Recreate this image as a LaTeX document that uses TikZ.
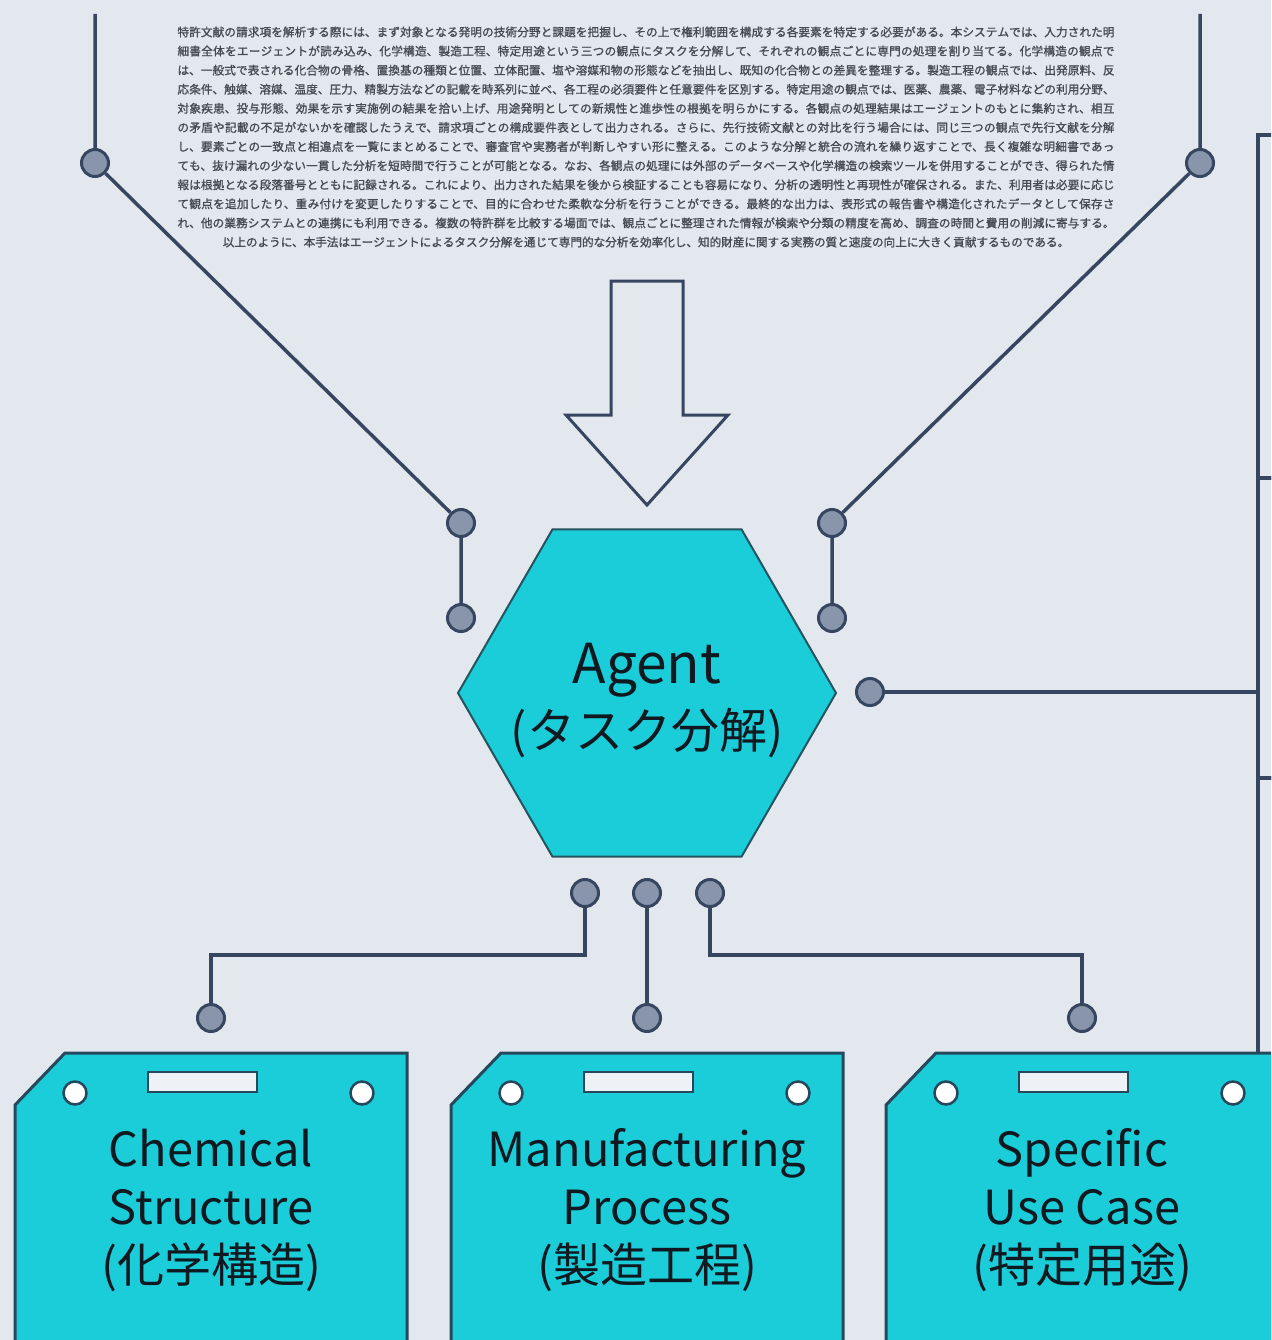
\documentclass[tikz,border=0pt]{standalone}
\usepackage{fontspec}
\setmainfont{Noto Sans CJK JP}
\newfontfamily\notefont{Noto Sans CJK JP}[FakeBold=1.2]
\usetikzlibrary{positioning,shapes.geometric}
\XeTeXlinebreaklocale "ja"
\XeTeXlinebreakskip=0pt plus 1pt
\definecolor{paper}{RGB}{227,232,239}
\definecolor{wire}{RGB}{55,70,96}
\definecolor{pinfill}{RGB}{136,149,170}
\definecolor{agentcyan}{RGB}{26,205,216}
\definecolor{hexline}{RGB}{36,84,96}
\definecolor{boxline}{RGB}{38,72,92}
\definecolor{ink}{RGB}{16,24,32}
\definecolor{fog}{RGB}{70,74,82}

\begin{document}
\begin{tikzpicture}[x=1pt,y=-1pt,
      wire/.style={draw=wire, line width=3.5pt},
      pin/.style={circle, draw=wire, line width=3pt, fill=pinfill, minimum size=27pt, inner sep=0pt},
      hole/.style={circle, draw=boxline, line width=2.5pt, fill=white, minimum size=23pt, inner sep=0pt},
      card/.style={draw=boxline, line width=3pt, fill=agentcyan},
      slot/.style={draw=boxline, line width=2.5pt, fill=paper!60!white},
      hexa/.style={regular polygon, regular polygon sides=6, minimum size=378pt, inner sep=0pt,
                   outer sep=0pt, fill=agentcyan, draw=hexline, line width=2pt},
      lbl/.style={align=center, text=ink, font=\fontsize{47}{58}\selectfont}]
    \fill[paper] (0,0) rectangle (1271,1340);
    \useasboundingbox (0,0) rectangle (1271,1340);
    \clip (0,0) rectangle (1271,1340);

    % description text at the top
    \node[text width=937pt, align=justify, text=fog, font=\notefont\fontsize{11.6}{19.1}\selectfont] (note) at (646,137)
      {{\parfillskip=0pt 特許文献の請求項を解析する際には、まず対象となる発明の技術分野と課題を把握し、その上で権利範囲を構成する各要素を特定する必要がある。本システムでは、入力された明細書全体をエージェントが読み込み、化学構造、製造工程、特定用途という三つの観点にタスクを分解して、それぞれの観点ごとに専門の処理を割り当てる。化学構造の観点では、一般式で表される化合物の骨格、置換基の種類と位置、立体配置、塩や溶媒和物の形態などを抽出し、既知の化合物との差異を整理する。製造工程の観点では、出発原料、反応条件、触媒、溶媒、温度、圧力、精製方法などの記載を時系列に並べ、各工程の必須要件と任意要件を区別する。特定用途の観点では、医薬、農薬、電子材料などの利用分野、対象疾患、投与形態、効果を示す実施例の結果を拾い上げ、用途発明としての新規性と進歩性の根拠を明らかにする。各観点の処理結果はエージェントのもとに集約され、相互の矛盾や記載の不足がないかを確認したうえで、請求項ごとの構成要件表として出力される。さらに、先行技術文献との対比を行う場合には、同じ三つの観点で先行文献を分解し、要素ごとの一致点と相違点を一覧にまとめることで、審査官や実務者が判断しやすい形に整える。このような分解と統合の流れを繰り返すことで、長く複雑な明細書であっても、抜け漏れの少ない一貫した分析を短時間で行うことが可能となる。なお、各観点の処理には外部のデータベースや化学構造の検索ツールを併用することができ、得られた情報は根拠となる段落番号とともに記録される。これにより、出力された結果を後から検証することも容易になり、分析の透明性と再現性が確保される。また、利用者は必要に応じて観点を追加したり、重み付けを変更したりすることで、目的に合わせた柔軟な分析を行うことができる。最終的な出力は、表形式の報告書や構造化されたデータとして保存され、他の業務システムとの連携にも利用できる。複数の特許群を比較する場面では、観点ごとに整理された情報が検索や分類の精度を高め、調査の時間と費用の削減に寄与する。\par}
       {\centering 以上のように、本手法はエージェントによるタスク分解を通じて専門的な分析を効率化し、知的財産に関する実務の質と速度の向上に大きく貢献するものである。\par}};

    % hollow arrow into the agent
    \draw[wire, line width=3pt, fill=paper] (611,281) -- (683,281) -- (683,415) -- (728,415)
      -- (647,505) -- (566,415) -- (611,415) -- cycle;

    \node[hexa] (agent) at (647,693) {};
    \node[align=center, text=ink, font=\fontsize{55}{65}\selectfont] (agenttext) at ([yshift=-8pt]agent.center)
      {Agent\\{\fontsize{48}{65}\selectfont (タスク分解)}};

    % left and right feeds from the top
    \coordinate (ltop) at (95,14);
    \coordinate (rtop) at (1200,14);
    \node[pin] (l0) at (95,163) {};
    \node[pin] (l1) at (461,523) {};
    \node[pin] (l2) at (461,618) {};
    \node[pin] (r0) at (1200,163) {};
    \node[pin] (r1) at (832,523) {};
    \node[pin] (r2) at (832,618) {};
    \draw[wire] (ltop) -- (l0) -- (l1) -- (l2);
    \draw[wire] (rtop) -- (r0) -- (r1) -- (r2);

    % panels on the right edge
    \draw[wire] (1258,135) rectangle (1300,478);
    \draw[wire] (1258,478) rectangle (1300,778);
    \draw[wire] (1258,778) rectangle (1300,1360);
    \coordinate (rail) at (1258,692);
    \node[pin] (side) at (870,692) {};
    \draw[wire] (side) -- (rail);

    % bottom cards
    \foreach \cx/\txt in {211/{Chemical\\Structure\\(化学構造)},
                          647/{Manufacturing\\Process\\(製造工程)},
                          1082/{Specific\\Use Case\\(特定用途)}}{
      \draw[card] (\cx-196,1105) -- (\cx-146,1053) -- (\cx+196,1053) -- (\cx+196,1360)
        -- (\cx-196,1360) -- cycle;
      \draw[slot] (\cx-63,1072) rectangle (\cx+46,1092);
      \node[hole] at (\cx-136,1093) {};
      \node[hole] at (\cx+151,1093) {};
      \node[lbl] at (\cx,1210) {\txt};
    }

    % agent outputs
    \node[pin] (chem) at (211,1018) {};
    \node[pin] (mfg) at (647,1018) {};
    \node[pin] (use) at (1082,1018) {};
    \coordinate (fork) at (0,955);
    \node[pin] (o1) at (585,893) {};
    \node[pin] (o2) at (647,893) {};
    \node[pin] (o3) at (710,893) {};
    \draw[wire] (o1) -- (o1 |- fork) -| (chem);
    \draw[wire] (o2) -- (mfg);
    \draw[wire] (o3) -- (o3 |- fork) -| (use);
  \end{tikzpicture}
\end{document}
